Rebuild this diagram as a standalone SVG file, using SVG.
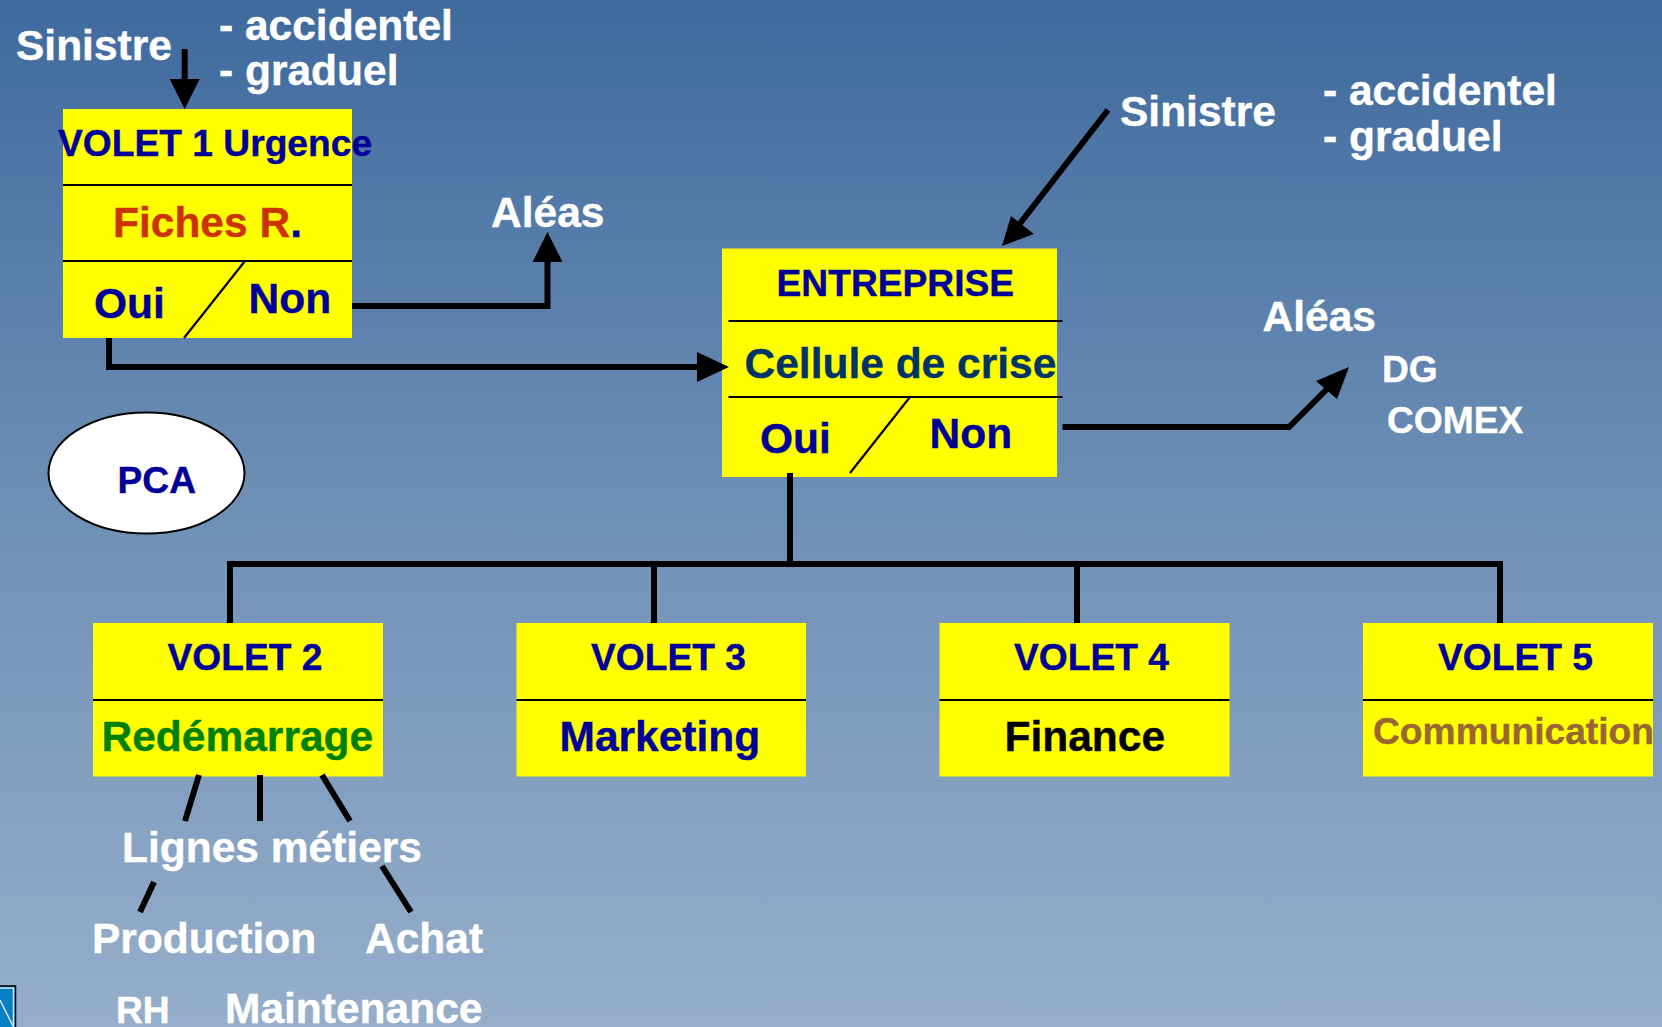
<svg xmlns="http://www.w3.org/2000/svg" width="1662" height="1027" viewBox="0 0 1662 1027">
<style>
text{font-family:"Liberation Sans",Arial,sans-serif;font-weight:700;font-size:42.500px;stroke:currentColor;stroke-width:.4}
.w{fill:#fff;color:#fff}.b{fill:#000099;color:#000099}.s{font-size:37.200px}
.box{fill:#ffff00}
.d{stroke:#000;stroke-width:2.2;fill:none}
.c{stroke:#000;stroke-width:6;fill:none}
.h{fill:#000}
</style>
<defs>
<linearGradient id="bg" x1="0" y1="0" x2="0" y2="1"><stop offset="0" stop-color="#3f6a9e"/><stop offset=".5" stop-color="#6f90b6"/><stop offset="1" stop-color="#96aeca"/></linearGradient>
</defs>
<rect id="background" width="1662" height="1027" fill="url(#bg)"/>
<g id="volet1">
<rect class="box" x="63" y="109" width="289" height="229"/>
<path class="d" d="M63 185H352M63 261H352M245 261L184 338"/>
<text class="b s" x="58" y="155.500">VOLET 1 Urgence</text>
<text x="113" y="237" fill="#cc3300" color="#cc3300">Fiches R<tspan fill="#000099" color="#000099">.</tspan></text>
<text class="b" x="94" y="318">Oui</text>
<text class="b" x="248.500" y="313">Non</text>
</g>
<g id="entreprise">
<rect class="box" x="722" y="248.500" width="335" height="228.500"/>
<path class="d" d="M728.500 321H1062.500M728.500 397H1062.500M910 397L850 473"/>
<text class="b s" x="776.500" y="296">ENTREPRISE</text>
<text x="744.500" y="378" fill="#003366" color="#003366">Cellule de crise</text>
<text class="b" x="760" y="453">Oui</text>
<text class="b" x="929.500" y="448">Non</text>
</g>
<g id="pca">
<ellipse cx="146.500" cy="473" rx="98" ry="60.500" fill="#fff" stroke="#000" stroke-width="2"/>
<text class="b s" x="117.500" y="493">PCA</text>
</g>
<g id="volet2">
<rect class="box" x="93" y="623" width="290" height="153.500"/>
<path class="d" d="M93 700H383"/>
<text class="b s" x="167.500" y="670">VOLET 2</text>
<text x="101.500" y="750.500" fill="#008000" color="#008000">Redémarrage</text>
</g>
<g id="volet3">
<rect class="box" x="516.500" y="623" width="289.500" height="153.500"/>
<path class="d" d="M516.500 700H806"/>
<text class="b s" x="591" y="670">VOLET 3</text>
<text class="b" x="559.500" y="750.500">Marketing</text>
</g>
<g id="volet4">
<rect class="box" x="939.500" y="623" width="290" height="153.500"/>
<path class="d" d="M939.500 700H1229.500"/>
<text class="b s" x="1014" y="670">VOLET 4</text>
<text x="1004.500" y="750.500" fill="#000" color="#000">Finance</text>
</g>
<g id="volet5">
<rect class="box" x="1363" y="623" width="290" height="153.500"/>
<path class="d" d="M1363 700H1653"/>
<text class="b s" x="1438" y="670">VOLET 5</text>
<text class="s" x="1373" y="744" fill="#996633" color="#996633">Communication</text>
</g>
<g id="connectors">
<path class="c" d="M184.700 49V82"/><path class="h" d="M169.700 79H199.700L184.700 109Z"/>
<path class="c" d="M352 306H547.500V260"/><path class="h" d="M532.500 262H562.500L547.500 232Z"/>
<path class="c" d="M109 338V367H700"/><path class="h" d="M697 352V382L729 367Z"/>
<path class="c" d="M1108 110L1018 226"/><path class="h" d="M1002 246L1011 216L1034 234Z"/>
<path class="c" d="M1062.500 427H1289L1332 384"/><path class="h" d="M1349 367L1316 381L1337 399Z"/>
<path class="c" d="M790 473V564M230 623V564H1500V623M654 564V623M1077 564V623"/>
<path class="c" d="M199 775L185 821M260 775V821M322 775L350 821M382 866L411 912M154 882L140 912"/>
</g>
<g id="labels">
<text class="w" x="16" y="60">Sinistre</text>
<text class="w" x="219" y="40">- accidentel</text>
<text class="w" x="219" y="84.500">- graduel</text>
<text class="w" x="491" y="227">Aléas</text>
<text class="w" x="1120" y="126">Sinistre</text>
<text class="w" x="1323" y="105">- accidentel</text>
<text class="w" x="1323" y="151">- graduel</text>
<text class="w" x="1262.500" y="331">Aléas</text>
<text class="w s" x="1382" y="382">DG</text>
<text class="w s" x="1387" y="433">COMEX</text>
<text class="w" x="122" y="862">Lignes métiers</text>
<text class="w" x="92" y="953">Production</text>
<text class="w" x="365" y="953">Achat</text>
<text class="w s" x="116" y="1023">RH</text>
<text class="w" x="225" y="1023">Maintenance</text>
</g>
<g id="logo">
<rect x="-4" y="986" width="19.500" height="50" fill="#0a80c4" stroke="#000" stroke-width="1.500"/>
<rect x="-4" y="988" width="17.500" height="50" fill="none" stroke="#cfe8f5" stroke-width="1.500"/>
<path d="M0 1000L13 1026" stroke="#cfe8f5" stroke-width="1.500" fill="none"/>
</g>
</svg>
